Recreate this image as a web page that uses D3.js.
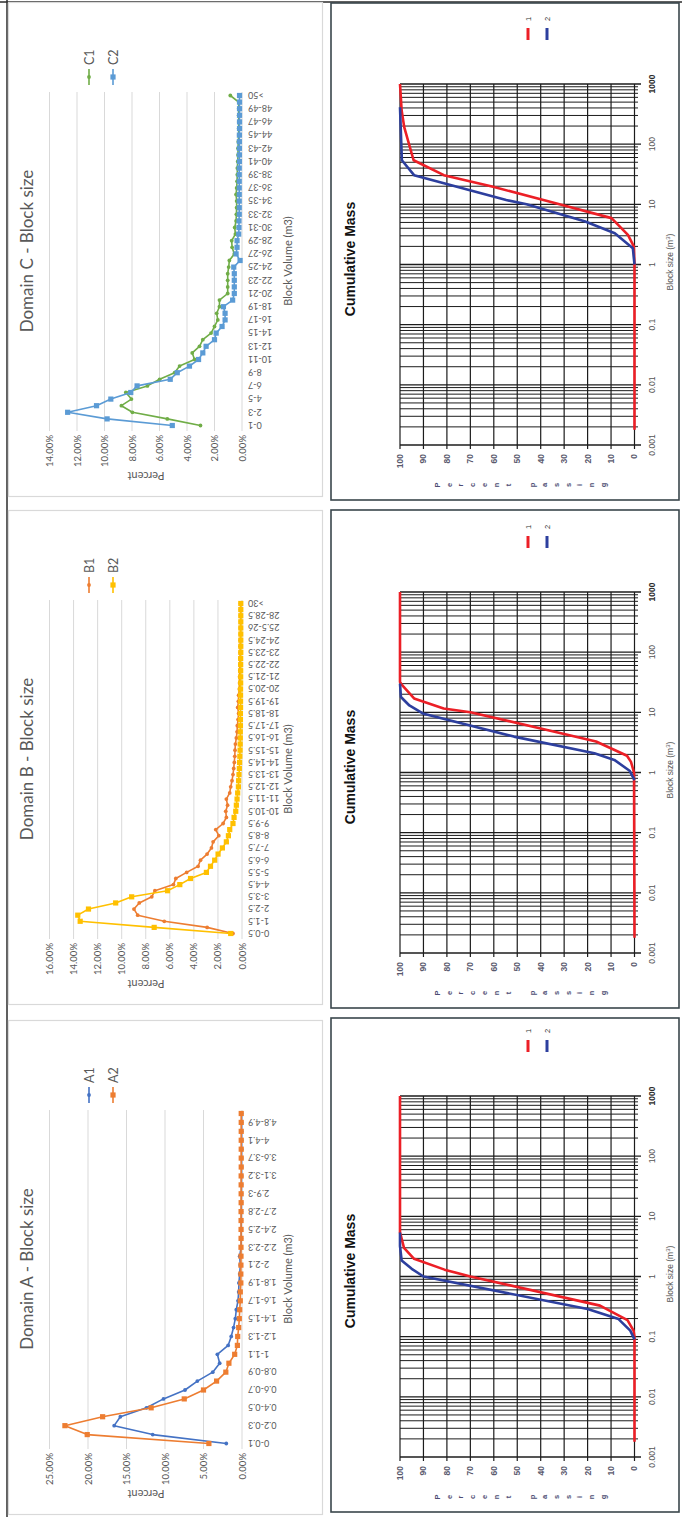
<!DOCTYPE html>
<html>
<head>
<meta charset="utf-8">
<script src="https://cdn.jsdelivr.net/npm/d3@7"></script>
<style>
  html, body { margin: 0; padding: 0; background: #fff; }
  svg { display: block; }
</style>
</head>
<body>
<script>
// ---------- Block size distributions (percent of blocks per volume bin) ----------
const catsA = ["0-0.1","0.1-0.2","0.2-0.3","0.3-0.4","0.4-0.5","0.5-0.6","0.6-0.7","0.7-0.8","0.8-0.9","0.9-1",
  "1-1.1","1.1-1.2","1.2-1.3","1.3-1.4","1.4-1.5","1.5-1.6","1.6-1.7","1.7-1.8","1.8-1.9","1.9-2",
  "2-2.1","2.1-2.2","2.2-2.3","2.3-2.4","2.4-2.5","2.5-2.6","2.7-2.8","2.8-2.9","2.9-3","3-3.1",
  "3.1-3.2","3.3-3.4","3.6-3.7","3.8-3.9","4-4.1","4.3-4.4","4.8-4.9","5.2-5.3"];
const valuesA1 = [2.04,11.6,16.6,15.8,12.4,10.2,7.4,5.8,3.8,2.9,3.2,1.8,1.4,1.1,0.87,0.74,0.52,0.43,0.4,0.3,
  0.22,0.3,0.12,0.1,0.1,0.09,0.08,0.08,0.07,0.07,0.06,0.06,0.06,0.05,0.05,0.05,0.05,0.05];
const valuesA2 = [4.3,20.1,23.0,18.1,11.8,7.5,5.0,3.3,2.1,1.7,0.95,0.6,0.56,0.43,0.35,0.3,0.22,0.22,0.15,0.15,
  0.14,0.13,0.13,0.12,0.12,0.12,0.12,0.11,0.11,0.11,0.11,0.1,0.1,0.1,0.1,0.1,0.1,0.1];
const ticksA = [0,5,10,15,20,25];

const catsB = ["0-0.5","0.5-1","1-1.5","1.5-2","2-2.5","2.5-3","3-3.5","3.5-4","4-4.5","4.5-5",
  "5-5.5","5.5-6","6-6.5","6.5-7","7-7.5","7.5-8","8-8.5","8.5-9","9-9.5","9.5-10",
  "10-10.5","10.5-11","11-11.5","11.5-12","12-12.5","12.5-13","13-13.5","13.5-14","14-14.5","14.5-15",
  "15-15.5","15.5-16","16-16.5","16.5-17","17-17.5","17.5-18","18-18.5","18.5-19","19-19.5","19.5-20",
  "20-20.5","20.5-21","21-21.5","21.5-22","22-22.5","22.5-23","23-23.5","23.5-24","24-24.5","24.5-25",
  "25.5-26","26.5-27","28-28.5","29-29.5",">30"];
const valuesB1 = [0.75,2.9,6.46,8.67,8.98,8.54,7.5,7.24,5.7,5.5,4.6,3.65,3.45,2.9,2.54,2.4,1.93,2.18,1.57,1.3,
  1.35,1.2,1.3,1.02,0.94,0.83,0.75,0.69,0.64,0.6,0.58,0.55,0.47,0.41,0.39,0.33,0.28,0.36,0.3,0.28,
  0.22,0.2,0.2,0.18,0.17,0.16,0.15,0.15,0.14,0.13,0.13,0.12,0.12,0.12,0.12];
const valuesB2 = [0.94,7.3,13.45,13.65,12.76,10.5,9.17,6.19,5.17,4.28,2.96,2.62,2.27,1.99,1.63,1.3,1.13,1.02,0.75,0.66,
  0.52,0.47,0.41,0.36,0.3,0.28,0.25,0.22,0.2,0.18,0.16,0.15,0.14,0.14,0.13,0.13,0.13,0.12,0.12,0.12,
  0.12,0.11,0.11,0.11,0.11,0.11,0.1,0.1,0.1,0.1,0.1,0.1,0.1,0.1,0.1];
const ticksB = [0,2,4,6,8,10,12,14,16];

const catsC = ["0-1","1-2","2-3","3-4","4-5","5-6","6-7","7-8","8-9","9-10",
  "10-11","11-12","12-13","13-14","14-15","15-16","16-17","17-18","18-19","19-20",
  "20-21","21-22","22-23","23-24","24-25","25-26","26-27","27-28","28-29","29-30",
  "30-31","31-32","32-33","33-34","34-35","35-36","36-37","37-38","38-39","39-40",
  "40-41","41-42","42-43","43-44","44-45","45-46","46-47","47-48","48-49","49-50",">50"];
const valuesC1 = [3.02,5.43,7.97,8.77,8.04,8.45,6.88,5.99,4.9,4.54,3.45,3.62,3.09,2.85,2.25,2.0,1.76,1.84,1.64,1.64,
  1.04,1.04,1.04,1.04,0.97,0.92,0.56,0.72,0.75,0.48,0.53,0.43,0.41,0.39,0.39,0.43,0.39,0.36,0.34,0.34,
  0.31,0.29,0.29,0.27,0.24,0.24,0.24,0.24,0.24,0.24,0.85];
const valuesC2 = [5.07,9.81,12.68,10.58,9.54,8.09,7.63,5.22,4.71,3.82,3.16,2.85,2.61,2.0,1.88,1.45,1.23,1.23,1.35,0.68,
  0.56,0.56,0.56,0.56,0.6,0.14,0.43,0.36,0.36,0.24,0.22,0.22,0.2,0.2,0.2,0.2,0.2,0.2,0.2,0.2,
  0.19,0.19,0.19,0.19,0.19,0.18,0.18,0.18,0.18,0.18,0.18];
const ticksC = [0,2,4,6,8,10,12,14];

// ---------- Cumulative mass curves (block size m³, percent passing) ----------
const cumA1Size = [0.0018,0.1,0.126,0.189,0.328,1,1.3,1.97,3.0,5.4,1000];
const cumA1Pass = [0,0,0.4,3,14.7,70,81,94,98.3,100,100];
const cumA2Size = [0.09,0.126,0.196,0.288,1,1.34,1.85,3.2,5.4];
const cumA2Pass = [0,1.8,6.8,20,90,95,99.3,100,100];

const cumB1Size = [0.0018,1,1.5,1.9,2.23,3.27,5.4,10,11.6,17,28,32,1000];
const cumB1Pass = [0,0.2,1.5,3.2,7.1,16.4,40,70,81.4,94,99,100,100];
const cumB2Size = [0.75,1.07,1.62,2.09,3.95,9.6,13,18,30];
const cumB2Pass = [0,2.1,8.6,17.1,51.4,90.3,96,99.6,100];

const cumC1Size = [0.0018,1,2.0,3.1,5.9,10,19.6,30.5,54,192,363,1000];
const cumC1Pass = [0,0,0.3,2.8,9.8,32,60.3,81.3,94.2,98.2,99.3,100];
const cumC2Size = [1,1.87,3.3,5.2,10,11.8,21,30.5,54,410];
const cumC2Pass = [0,0.7,8.4,21,46,54.7,78.5,94,99.2,100];

const sizeTicks = [0.001,0.01,0.1,1,10,100,1000];
const sizeTickLabels = ["0.001","0.01","0.1","1","10","100","1000"];
const passTicks = [0,10,20,30,40,50,60,70,80,90,100];
const cumLegend = ["1","2"];

// ---------- Page frame: drawn landscape, turned a quarter turn ----------
const W = 1517, H = 682;
const svg = d3.select("body").append("svg")
  .attr("width", H).attr("height", W);
svg.append("rect").attr("width", H).attr("height", W).attr("fill", "#fff");
const root = svg.append("g").attr("transform", `translate(0,${W}) rotate(-90)`);

const excelFont = "Lato, 'Open Sans', sans-serif";
const arialFont = "'Liberation Sans', Arial, sans-serif";

// outer frame lines
root.append("line").attr("x1", 0).attr("x2", W).attr("y1", 7).attr("y2", 7)
  .attr("stroke", "#2b2b2b").attr("stroke-width", 1.5);
root.append("line").attr("x1", 1515).attr("x2", 1515).attr("y1", 0).attr("y2", H)
  .attr("stroke", "#2b2b2b").attr("stroke-width", 1.5);

// ---------- Distribution line chart ----------
function distChart(cfg) {
  const g = root.append("g").attr("transform", `translate(${cfg.x0},0)`);
  g.append("rect").attr("x", 0.5).attr("y", 8.5).attr("width", 494).attr("height", 314)
    .attr("fill", "#fff").attr("stroke", "#d9d9d9").attr("stroke-width", 1.2);

  const x = d3.scalePoint().domain(cfg.cats).range([71.5, 401.5]);
  const y = d3.scaleLinear().domain([0, d3.max(cfg.ticks)]).range([242, 49.5]);

  // horizontal gridlines
  g.append("g").selectAll("line").data(cfg.ticks).join("line")
    .attr("x1", 66).attr("x2", 405)
    .attr("y1", d => y(d)).attr("y2", d => y(d))
    .attr("stroke", "#d9d9d9").attr("stroke-width", 1);

  // value axis
  const yAxis = g.append("g").attr("transform", "translate(62,0)")
    .call(d3.axisLeft(y).tickValues(cfg.ticks).tickSize(0).tickPadding(0)
      .tickFormat(d => d.toFixed(2) + "%"));
  yAxis.select(".domain").remove();
  yAxis.selectAll("text").attr("font-family", excelFont).attr("font-size", 9.5)
    .attr("fill", "#595959");

  // category axis (every second label)
  const xAxis = g.append("g").attr("transform", "translate(0,248)")
    .call(d3.axisBottom(x).tickValues(cfg.cats.filter((d, i) => i % 2 === 0)).tickSize(0).tickPadding(0));
  xAxis.select(".domain").remove();
  xAxis.selectAll("text")
    .attr("font-family", excelFont).attr("font-size", 9).attr("fill", "#595959")
    .attr("transform", "rotate(-90)")
    .attr("text-anchor", "end").attr("x", 0).attr("y", 0).attr("dy", "0.35em");

  // titles
  g.append("text").attr("x", 246).attr("y", 33).attr("text-anchor", "middle")
    .attr("font-family", excelFont).attr("font-size", 17).attr("fill", "#595959")
    .text(cfg.title);
  g.append("text").attr("x", 236).attr("y", 292).attr("text-anchor", "middle")
    .attr("font-family", excelFont).attr("font-size", 11).attr("fill", "#595959")
    .text("Block Volume (m3)");
  g.append("text").attr("transform", "translate(25,146) rotate(-90)").attr("text-anchor", "middle")
    .attr("font-family", excelFont).attr("font-size", 11).attr("fill", "#595959")
    .text("Percent");

  const line = d3.line().x((d, i) => x(cfg.cats[i])).y(d => y(d));

  cfg.series.forEach(s => {
    g.append("path").datum(s.values).attr("d", line)
      .attr("fill", "none").attr("stroke", s.color).attr("stroke-width", 1.6)
      .attr("stroke-linejoin", "round");
    const m = g.append("g");
    if (s.square) {
      m.selectAll("rect").data(s.values).join("rect")
        .attr("x", (d, i) => x(cfg.cats[i]) - 2.6).attr("y", d => y(d) - 2.6)
        .attr("width", 5.2).attr("height", 5.2).attr("fill", s.color);
    } else {
      m.selectAll("circle").data(s.values).join("circle")
        .attr("cx", (d, i) => x(cfg.cats[i])).attr("cy", d => y(d))
        .attr("r", 1.9).attr("fill", s.color);
    }
  });

  // legend
  const lg = g.append("g").selectAll("g").data(cfg.series).join("g")
    .attr("transform", (d, i) => `translate(420,${89 + i * 24})`);
  lg.append("line").attr("x1", -8).attr("x2", 8)
    .attr("stroke", d => d.color).attr("stroke-width", 1.6);
  lg.filter(d => d.square).append("rect").attr("x", -2.6).attr("y", -2.6)
    .attr("width", 5.2).attr("height", 5.2).attr("fill", d => d.color);
  lg.filter(d => !d.square).append("circle").attr("r", 1.9).attr("fill", d => d.color);
  lg.append("text").attr("x", 12).attr("dy", "0.36em")
    .attr("font-family", excelFont).attr("font-size", 12.5).attr("fill", "#595959")
    .text(d => d.name);
}

distChart({ x0: 2, title: "Domain A - Block size", cats: catsA, ticks: ticksA,
  series: [ { name: "A1", values: valuesA1, color: "#4472c4", square: false },
            { name: "A2", values: valuesA2, color: "#ed7d31", square: true } ] });
distChart({ x0: 512, title: "Domain B - Block size", cats: catsB, ticks: ticksB,
  series: [ { name: "B1", values: valuesB1, color: "#ed7d31", square: false },
            { name: "B2", values: valuesB2, color: "#ffc000", square: true } ] });
distChart({ x0: 1020, title: "Domain C - Block size", cats: catsC, ticks: ticksC,
  series: [ { name: "C1", values: valuesC1, color: "#70ad47", square: false },
            { name: "C2", values: valuesC2, color: "#5b9bd5", square: true } ] });

// ---------- Cumulative mass chart (log block size vs percent passing) ----------
function cumChart(cfg) {
  const g = root.append("g").attr("transform", `translate(${cfg.x0},0)`);
  g.append("rect").attr("x", 0).attr("y", 331).attr("width", cfg.w).attr("height", 348)
    .attr("fill", "#fff").attr("stroke", "#3a464c").attr("stroke-width", 1.6);

  const x = d3.scaleLog().domain([0.001, 1000]).range([55, 416]);
  const y = d3.scaleLinear().domain([0, 100]).range([634.5, 400]);
  const decades = new Set(sizeTicks);

  // block size gridlines (1..9 per decade)
  g.append("g").selectAll("line").data(x.ticks()).join("line")
    .attr("x1", d => x(d)).attr("x2", d => x(d))
    .attr("y1", 400).attr("y2", d => decades.has(d) ? 641 : 638)
    .attr("stroke", "#1c1c1c").attr("stroke-width", d => decades.has(d) ? 1.3 : 1);

  // percent gridlines
  g.append("g").selectAll("line").data(passTicks).join("line")
    .attr("x1", 51).attr("x2", 416)
    .attr("y1", d => y(d)).attr("y2", d => y(d))
    .attr("stroke", "#1c1c1c").attr("stroke-width", 1.2);

  // tick labels
  g.append("g").selectAll("text").data(passTicks).join("text")
    .attr("x", 46).attr("y", d => y(d)).attr("dy", "0.35em").attr("text-anchor", "end")
    .attr("font-family", arialFont).attr("font-size", 8.5).attr("font-weight", "bold")
    .attr("fill", "#5a5a6e").text(d => d);
  g.append("g").selectAll("text").data(sizeTicks).join("text")
    .attr("x", d => x(d)).attr("y", 655).attr("text-anchor", "middle")
    .attr("font-family", arialFont).attr("font-size", 8.5)
    .attr("font-weight", (d, i) => i === sizeTicks.length - 1 ? "bold" : "normal")
    .attr("fill", (d, i) => i === sizeTicks.length - 1 ? "#2a2a2a" : "#555")
    .text((d, i) => sizeTickLabels[i]);

  // titles
  g.append("text").attr("x", 241).attr("y", 355).attr("text-anchor", "middle")
    .attr("font-family", arialFont).attr("font-size", 14).attr("font-weight", "bold")
    .attr("fill", "#111").text("Cumulative Mass");
  const bs = g.append("text").attr("x", 238).attr("y", 673).attr("text-anchor", "middle")
    .attr("font-family", arialFont).attr("font-size", 8.5).attr("fill", "#555");
  bs.append("tspan").text("Block size (m");
  bs.append("tspan").attr("dy", -3).attr("font-size", 6).text("3");
  bs.append("tspan").attr("dy", 3).text(")");

  // stacked axis title
  const letters = "Percent passing".split("");
  g.append("g").selectAll("text").data(letters).join("text")
    .attr("x", 15).attr("y", (d, i) => 437 + i * 11.9).attr("dy", "0.35em")
    .attr("text-anchor", "middle")
    .attr("font-family", arialFont).attr("font-size", 7.5).attr("font-weight", "bold")
    .attr("fill", "#4d4d73").text(d => d);

  const line = d3.line().x(d => x(d[0])).y(d => y(d[1]));
  cfg.series.forEach(s => {
    g.append("path").datum(d3.zip(s.size, s.pass)).attr("d", line)
      .attr("fill", "none").attr("stroke", s.color).attr("stroke-width", 2.6)
      .attr("stroke-linejoin", "round");
  });

  // legend
  const lg = g.append("g").selectAll("g").data(cfg.series).join("g")
    .attr("transform", (d, i) => `translate(0,${528 + i * 19})`);
  lg.append("line").attr("x1", 460).attr("x2", 472)
    .attr("stroke", d => d.color).attr("stroke-width", 3);
  lg.append("text").attr("x", 479).attr("dy", "0.35em")
    .attr("font-family", arialFont).attr("font-size", 7.5).attr("fill", "#333")
    .text((d, i) => cumLegend[i]);
}

const red = "#ec1f26", blue = "#2d3f9e";
cumChart({ x0: 5, w: 494, series: [
  { size: cumA1Size, pass: cumA1Pass, color: red },
  { size: cumA2Size, pass: cumA2Pass, color: blue } ] });
cumChart({ x0: 509, w: 498, series: [
  { size: cumB1Size, pass: cumB1Pass, color: red },
  { size: cumB2Size, pass: cumB2Pass, color: blue } ] });
cumChart({ x0: 1017, w: 497, series: [
  { size: cumC1Size, pass: cumC1Pass, color: red },
  { size: cumC2Size, pass: cumC2Pass, color: blue } ] });
</script>
</body>
</html>
